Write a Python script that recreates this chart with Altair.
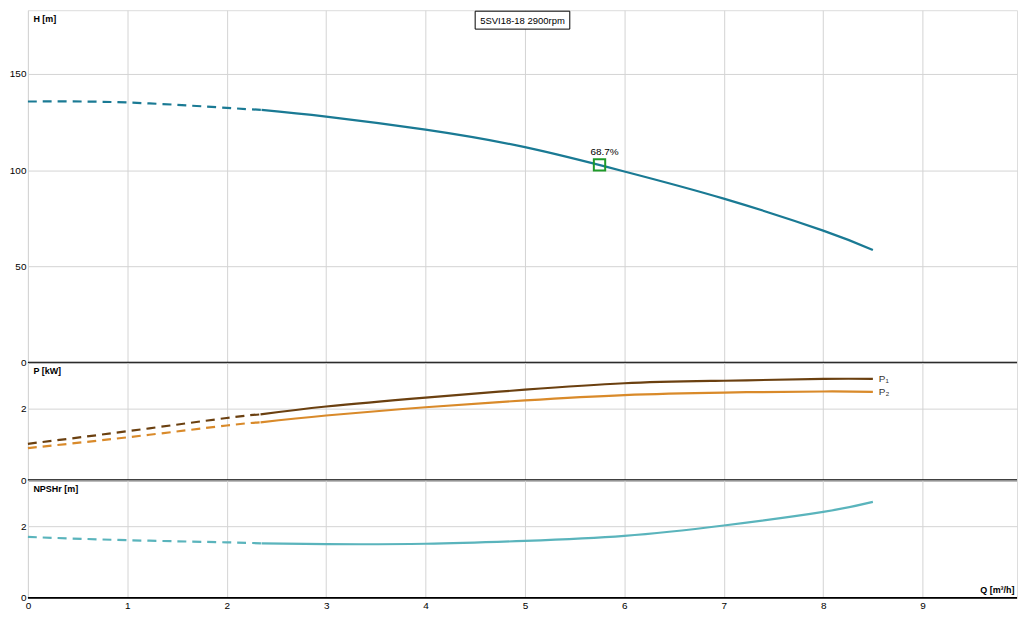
import altair as alt
import pandas as pd

# ---- data ----
q_h_dash = [0, 1, 2, 2.35]
h_dash = [135.6, 135.1, 132.3, 131.3]
q_h_solid = [2.35, 3, 4, 5, 6, 7, 8, 8.5]
h_solid = [131.3, 127.8, 121.0, 111.9, 99.3, 85.2, 68.6, 58.6]

q_p_dash = [0, 1, 2, 2.34]
p1_dash = [1.02, 1.37, 1.74, 1.84]
p2_dash = [0.90, 1.20, 1.53, 1.62]
q_p_solid = [2.34, 3, 4, 5, 6, 7, 8, 8.5]
p1_solid = [1.84, 2.06, 2.31, 2.53, 2.71, 2.78, 2.83, 2.83]
p2_solid = [1.62, 1.81, 2.04, 2.23, 2.38, 2.45, 2.48, 2.47]

q_n_dash = [0, 1, 2, 2.35]
n_dash = [1.70, 1.61, 1.55, 1.52]
q_n_solid = [2.35, 3, 4, 5, 6, 7, 8, 8.5]
n_solid = [1.52, 1.50, 1.51, 1.59, 1.73, 2.02, 2.40, 2.68]

duty_q = [5.75]
duty_h = [102.7]
duty_label = ["68.7%"]

p_labels = ["P\u2081", "P\u2082"]
title_text = "5SVI18-18 2900rpm"

FONT = "Liberation Sans"
W = 993
H_TOP = 354
H_SUB = 118
XMAX = 9.95
INTERP = "natural"
LBL = 10
TTL = 9

x_scale = alt.Scale(domain=[0, XMAX], nice=False, zero=False)
grid_x = alt.Axis(labels=False, ticks=False, domain=False, title=None, grid=True,
                  values=list(range(0, 10)), gridColor="#d4d4d4")
bottom_x = alt.Axis(values=list(range(0, 10)), format="d", grid=True, gridColor="#d4d4d4",
                    ticks=False, domain=False, labelPadding=3, labelFlush=False,
                    labelFont=FONT, labelFontSize=LBL, labelColor="#000",
                    title="Q [m\u00b3/h]", titleFont=FONT, titleFontSize=TTL,
                    titleFontWeight="bold", titleAlign="right", titleBaseline="bottom",
                    titleX=W - 3, titleY=-3, titleAngle=0)


def yaxis(values, title):
    return alt.Axis(values=values, format="d", grid=True, gridColor="#d4d4d4", ticks=False,
                    domain=False, labelPadding=2, labelFlush=False,
                    labelFont=FONT, labelFontSize=LBL, labelColor="#000",
                    title=title, titleFont=FONT, titleFontSize=TTL,
                    titleFontWeight="bold", titleAngle=0, titleAlign="left",
                    titleBaseline="top", titleX=5, titleY=4)


def seg(q, v, name, style):
    return pd.DataFrame({"Q": q, "V": v, "s": name, "style": style})


# ---- top panel: head ----
h_df = pd.concat([seg(q_h_dash, h_dash, "H", "dash"), seg(q_h_solid, h_solid, "H", "solid")])
y_top = alt.Scale(domain=[0, 183], nice=False)

h_dash_line = alt.Chart(h_df[h_df["style"] == "dash"]).mark_line(
    color="#1a7a94", strokeWidth=2.2, strokeDash=[9, 6], interpolate=INTERP
).encode(x=alt.X("Q:Q", scale=x_scale, axis=grid_x),
         y=alt.Y("V:Q", scale=y_top, axis=yaxis([0, 50, 100, 150], "H [m]")))
h_solid_line = alt.Chart(h_df[h_df["style"] == "solid"]).mark_line(
    color="#1a7a94", strokeWidth=2.2, interpolate=INTERP
).encode(x="Q:Q", y="V:Q")

duty_df = pd.DataFrame({"Q": duty_q, "V": duty_h, "lab": duty_label})
duty_pt = alt.Chart(duty_df).mark_point(shape="square", size=130, filled=False,
                                        color="#1f9a2a", strokeWidth=2, opacity=1
                                        ).encode(x="Q:Q", y="V:Q")
duty_txt = alt.Chart(duty_df).mark_text(font=FONT, fontSize=10, color="#000",
                                        dy=-13, dx=5).encode(x="Q:Q", y="V:Q", text="lab:N")

title_df = pd.DataFrame({"t": [title_text]})
title_box = alt.Chart(title_df).mark_rect(fill="white", stroke="#000", strokeWidth=1).encode(
    x=alt.value(449), x2=alt.value(544), y=alt.value(1), y2=alt.value(19))
title_txt = alt.Chart(title_df).mark_text(font=FONT, fontSize=9.5, color="#000",
                                          baseline="middle").encode(
    x=alt.value(496.5), y=alt.value(10.5), text="t:N")

rule_df = pd.DataFrame({"V": [0]})
rule_top = alt.Chart(rule_df).mark_rule(color="#000", strokeWidth=2).encode(y="V:Q")

top = alt.layer(h_dash_line, h_solid_line, duty_pt, duty_txt, rule_top,
                title_box, title_txt).properties(width=W, height=H_TOP)

# ---- middle panel: power ----
p_df = pd.concat([
    seg(q_p_dash, p1_dash, "P1", "dash"), seg(q_p_solid, p1_solid, "P1", "solid"),
    seg(q_p_dash, p2_dash, "P2", "dash"), seg(q_p_solid, p2_solid, "P2", "solid"),
])
y_sub = alt.Scale(domain=[0, 3.28], nice=False)
p_color = alt.Color("s:N", scale=alt.Scale(domain=["P1", "P2"], range=["#6b4010", "#d98a2a"]),
                    legend=None)

p_dash_line = alt.Chart(p_df[p_df["style"] == "dash"]).mark_line(
    strokeWidth=2.2, strokeDash=[9, 6], interpolate=INTERP
).encode(x=alt.X("Q:Q", scale=x_scale, axis=grid_x),
         y=alt.Y("V:Q", scale=y_sub, axis=yaxis([0, 2], "P [kW]")),
         color=p_color, detail="s:N")
p_solid_line = alt.Chart(p_df[p_df["style"] == "solid"]).mark_line(
    strokeWidth=2.2, interpolate=INTERP
).encode(x="Q:Q", y="V:Q", color=p_color, detail="s:N")

plab_df = pd.DataFrame({"Q": [q_p_solid[-1]] * 2, "V": [p1_solid[-1], p2_solid[-1]],
                        "lab": p_labels})
p_txt = alt.Chart(plab_df).mark_text(font=FONT, fontSize=10, color="#333", align="left",
                                     dx=6, baseline="middle").encode(x="Q:Q", y="V:Q", text="lab:N")
rule_mid = alt.Chart(rule_df).mark_rule(color="#000", strokeWidth=2).encode(y="V:Q")

mid = alt.layer(p_dash_line, p_solid_line, p_txt, rule_mid).properties(width=W, height=H_SUB)

# ---- bottom panel: NPSHr ----
n_df = pd.concat([seg(q_n_dash, n_dash, "N", "dash"), seg(q_n_solid, n_solid, "N", "solid")])
n_dash_line = alt.Chart(n_df[n_df["style"] == "dash"]).mark_line(
    color="#5ab4bc", strokeWidth=2.2, strokeDash=[9, 6], interpolate=INTERP
).encode(x=alt.X("Q:Q", scale=x_scale, axis=bottom_x),
         y=alt.Y("V:Q", scale=y_sub, axis=yaxis([0, 2], "NPSHr [m]")))
n_solid_line = alt.Chart(n_df[n_df["style"] == "solid"]).mark_line(
    color="#5ab4bc", strokeWidth=2.2, interpolate=INTERP
).encode(x="Q:Q", y="V:Q")
rule_bot = alt.Chart(rule_df).mark_rule(color="#000", strokeWidth=2).encode(y="V:Q")

bot = alt.layer(n_dash_line, n_solid_line, rule_bot).properties(width=W, height=H_SUB)

chart = alt.vconcat(top, mid, bot, spacing=0, bounds="flush").resolve_scale(
    y="independent"
).properties(
    padding={"left": 0, "top": 0, "right": 5, "bottom": 5}
).configure_view(stroke="#000", strokeWidth=1).configure(background="white")

chart.save("out.html", embed_options={"renderer": "svg", "actions": False})
